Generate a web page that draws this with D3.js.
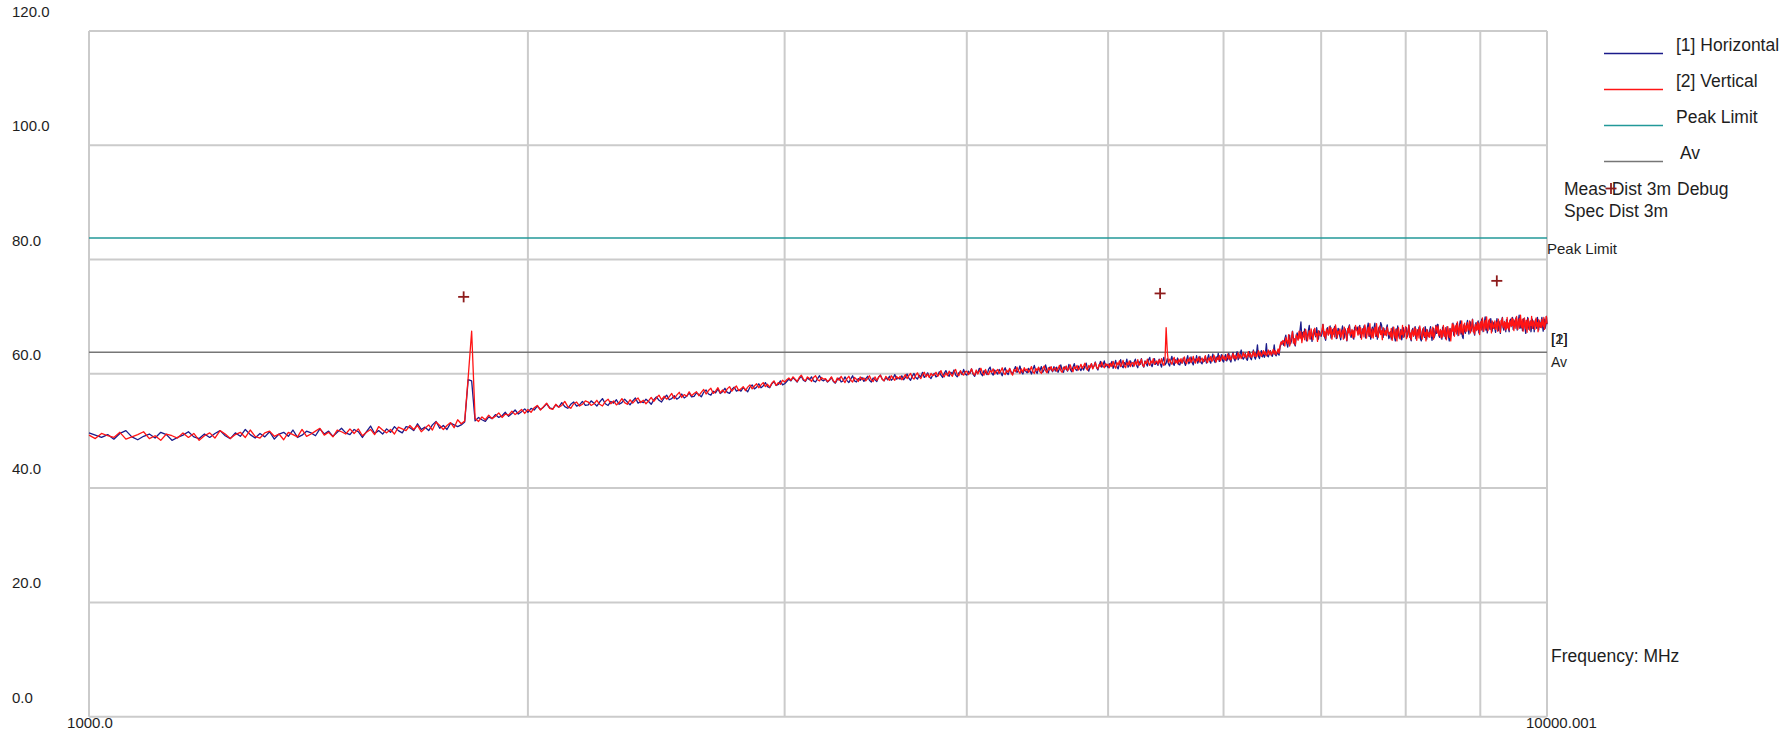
<!DOCTYPE html>
<html>
<head>
<meta charset="utf-8">
<script src="https://cdn.jsdelivr.net/npm/d3@7"></script>
<style>
  body { margin: 0; background: #fff; }
  svg { display: block; }
  text { font-family: "Liberation Sans", Arial, sans-serif; fill: #1e1e1e; }
</style>
</head>
<body>
<svg id="chart" width="1791" height="732"></svg>
<script>
// Radiated emission scan, 1 GHz – 10 GHz, 3 m measurement distance.
// Sweep grid: linear, 10 MHz per point.
const sweepStartMHz = 1000;
const sweepStepMHz = 10;

// [1] Horizontal polarisation, dBuV/m
const horizontalDb = [
  45.9,45.5,45.1,45.6,44.8,45.8,46.3,45.2,44.7,45.3,45.7,45.0,46.0,45.6,44.6,45.1,45.5,46.1,45.2,44.9,
  45.7,45.1,45.8,46.3,45.4,44.9,45.9,45.3,46.5,45.6,45.0,45.8,45.2,46.1,44.8,45.7,46.0,45.3,46.4,45.1,
  45.5,46.2,45.9,45.4,46.6,45.7,46.2,45.3,46.0,46.7,45.9,45.6,46.5,46.1,45.1,46.1,47.1,45.8,46.3,45.7,
  46.6,46.0,47.0,46.3,45.9,47.0,46.8,46.3,47.5,46.5,46.9,46.3,47.3,47.9,46.7,47.2,46.5,47.6,47.3,47.0,
  47.3,47.8,55.2,55.0,48.0,48.6,48.2,47.9,48.7,48.4,49.1,48.6,48.9,49.5,48.8,49.3,49.9,49.2,49.6,50.1,
  49.5,50.2,49.9,50.6,50.0,50.4,51.0,50.3,50.1,50.8,50.4,51.2,50.5,50.2,50.9,51.3,50.6,50.8,51.4,50.7,
  50.8,51.5,51.1,50.6,51.3,51.9,51.0,50.7,51.4,51.1,51.7,50.9,51.2,51.8,51.3,50.8,51.5,52.0,51.1,51.4,
  51.2,51.8,51.4,50.9,51.7,52.2,51.6,51.3,52.0,52.5,51.7,51.9,52.4,51.8,52.1,52.7,52.0,52.3,52.9,52.2,
  52.3,52.9,52.6,52.2,53.0,53.4,52.7,52.5,53.2,52.9,53.6,52.8,53.1,53.7,53.0,52.8,53.5,53.9,53.2,53.4,
  53.2,53.8,53.5,53.1,53.9,54.3,53.6,53.9,54.5,53.8,54.1,54.7,54.0,53.8,54.5,54.9,54.2,54.4,55.0,54.3,
  54.5,54.9,55.3,55.0,55.6,55.2,54.8,55.4,55.8,55.1,54.9,55.5,55.2,55.7,55.0,54.8,55.4,55.9,55.2,55.0,
  55.3,54.8,55.1,55.6,54.9,54.6,55.2,55.5,54.8,55.0,55.7,55.1,54.7,55.3,55.9,55.0,54.8,55.4,55.1,55.6,
  54.9,55.4,55.8,55.1,54.8,55.5,55.2,54.9,55.7,56.0,55.3,55.0,55.6,55.2,55.8,55.1,55.4,56.1,55.3,55.5,
  55.3,55.9,55.2,55.6,56.2,55.5,55.1,55.8,56.3,55.6,55.3,56.0,55.7,56.5,55.6,55.9,56.4,55.7,55.4,56.0,
  56.3,55.7,55.9,56.6,56.0,55.6,56.3,56.8,56.1,55.8,56.5,56.2,56.9,56.0,55.7,56.4,56.6,56.1,57.0,56.2,
  56.0,56.7,56.3,57.1,56.2,55.8,56.6,56.4,57.2,56.3,55.9,56.8,56.5,56.1,57.0,57.4,56.4,56.0,56.9,56.5,
  56.2,57.0,56.5,55.9,56.8,57.3,56.4,56.1,57.1,56.6,56.2,56.9,57.5,56.5,56.8,57.6,56.6,56.2,57.0,56.7,
  56.4,57.2,56.8,56.2,57.0,57.7,56.7,56.3,57.3,56.8,57.5,56.5,57.0,57.8,56.8,56.4,57.4,57.0,56.6,57.5,
  56.7,57.4,56.5,57.1,57.8,56.9,56.5,57.5,57.1,56.7,57.9,57.0,56.6,57.4,58.0,57.0,56.8,57.6,57.2,56.8,
  57.4,56.9,57.6,58.1,57.1,56.7,57.5,58.0,57.2,57.6,58.3,57.3,56.9,57.7,58.4,57.4,57.8,58.5,57.5,57.9,
  57.3,58.0,57.6,58.4,57.2,57.8,58.6,57.5,57.1,58.0,58.7,57.6,57.3,58.2,57.8,58.8,57.4,57.7,58.5,57.9,
  57.5,58.3,58.8,57.7,57.3,58.4,57.9,58.9,57.8,57.4,58.5,58.0,57.6,58.7,59.1,57.9,57.5,58.3,58.9,57.9,
  58.3,57.7,58.8,58.0,57.4,58.5,59.1,57.8,58.1,58.9,58.0,57.6,58.6,59.3,58.1,57.7,58.7,58.3,59.0,57.9,
  57.8,58.6,58.1,59.0,58.2,57.7,58.7,59.4,58.0,58.3,59.2,58.2,57.8,58.8,58.4,59.4,58.1,58.6,59.3,58.2,
  58.0,58.8,58.4,59.3,58.1,58.9,59.6,58.5,58.1,59.0,59.7,58.6,58.2,59.2,58.8,59.8,58.4,58.9,59.6,58.6,
  58.3,59.1,59.6,58.5,58.9,59.8,58.7,58.3,59.3,60.0,58.9,58.5,59.4,60.1,58.7,59.1,59.8,60.4,59.1,58.8,
  59.1,59.8,58.9,58.6,59.5,60.1,59.0,58.7,59.6,60.4,59.2,58.8,59.7,61.3,59.3,58.9,59.8,60.3,59.2,59.7,
  59.1,59.7,61.5,59.4,59.2,59.8,60.3,59.5,59.3,59.9,61.3,59.6,59.4,60.0,59.7,59.5,60.9,61.4,61.9,61.6,
  61.2,62.4,63.0,61.6,60.9,62.2,63.0,61.5,62.0,63.7,62.5,61.5,61.1,62.8,63.4,62.3,62.8,63.9,65.3,62.4,
  63.5,62.7,64.1,63.5,62.0,62.6,63.8,64.7,62.4,63.1,61.9,63.2,63.9,63.2,62.7,64.3,63.3,62.3,63.7,63.2,
  62.8,63.3,64.9,63.6,62.6,62.1,63.8,64.3,63.1,63.5,64.6,62.5,62.9,64.0,63.2,64.5,63.9,62.4,63.0,64.2,
  63.9,62.8,62.2,63.7,64.6,63.2,62.5,64.1,63.6,62.0,63.3,64.3,64.8,63.1,62.6,63.8,63.4,62.3,64.4,64.0,
  63.9,64.4,63.2,63.6,64.7,62.6,63.0,64.1,63.3,64.6,64.0,62.5,63.1,64.3,65.1,62.8,63.7,62.3,63.8,64.4,
  63.1,64.3,65.1,62.8,63.7,62.3,63.8,64.4,63.4,65.2,64.8,63.9,62.6,64.2,63.2,63.1,64.2,64.8,63.3,62.4,
  62.8,63.6,62.3,62.9,64.4,63.8,62.6,62.0,64.1,63.2,64.6,63.1,62.5,63.5,64.0,62.2,63.0,64.3,62.7,63.7,
  63.6,64.3,62.7,63.2,64.8,63.5,62.5,62.0,63.7,64.2,63.0,63.4,64.5,62.4,62.8,63.9,63.1,64.4,63.8,62.3,
  62.0,63.5,64.1,63.1,62.6,64.5,63.6,62.3,63.9,62.9,62.8,63.9,64.5,63.0,62.1,63.5,64.2,62.6,63.1,64.7,
  63.3,64.9,64.8,63.1,62.6,63.8,63.4,62.3,64.4,64.0,62.9,63.7,62.4,63.0,64.5,63.9,62.7,62.0,64.2,63.3,
  63.6,64.0,65.1,63.0,63.4,64.5,63.7,65.0,64.4,62.9,63.5,64.7,65.5,63.2,64.1,62.7,62.4,64.8,63.8,63.3,
  63.9,65.0,65.6,64.1,63.2,64.6,65.3,63.7,64.2,65.8,64.5,63.5,63.0,64.7,65.2,64.0,64.4,65.5,63.4,63.8,
  65.2,64.4,65.8,65.1,63.6,64.2,65.4,66.2,63.9,64.8,63.4,64.9,65.5,64.5,64.0,65.9,65.0,63.7,65.3,64.3,
  65.2,64.1,63.5,65.0,65.9,64.5,63.8,65.4,64.9,63.3,64.6,65.6,66.1,64.4,63.9,65.1,64.7,63.6,65.7,65.3,
  65.1,64.1,63.6,65.3,65.8,64.6,65.0,66.1,64.0,64.4,65.5,64.7,66.0,65.4,63.9,64.5,65.7,66.5,64.2,65.1,
  64.3,65.1,63.8,64.4,65.9,65.3,64.1,63.3,65.6,64.7,66.1,64.6,64.0,65.0,65.5,63.6,64.5,65.8,64.2,65.2,
  63.6,65.1,65.7,64.7,64.2,66.1,65.2,63.9,65.5,64.5,64.4,65.5,66.1,64.6,63.7,65.1,65.8,64.2,64.7,66.3,
  64.9
];

// [2] Vertical polarisation, dBuV/m
const verticalDb = [
  45.5,44.9,45.8,45.4,45.1,46.0,44.8,45.2,45.6,46.1,44.9,45.4,44.6,45.7,45.4,45.0,45.9,45.1,45.8,44.6,
  45.4,45.9,45.0,46.3,45.7,44.9,45.6,46.0,45.1,46.4,45.3,45.0,45.9,46.2,45.3,45.7,44.7,46.0,45.6,45.2,
  46.5,45.3,45.7,46.2,46.7,45.5,46.0,45.2,46.4,46.1,45.7,46.6,45.8,46.6,45.4,46.0,46.5,45.6,47.0,46.4,
  45.9,46.5,45.7,46.9,46.6,46.3,47.2,46.5,47.2,46.1,46.7,47.3,46.4,47.8,47.2,46.5,47.2,47.7,46.8,48.2,
  47.5,48.0,55.6,63.7,48.4,47.9,48.7,48.2,49.0,48.4,48.8,49.4,48.6,49.2,49.0,49.7,49.1,49.5,50.0,49.3,
  50.0,49.5,50.3,50.7,49.9,50.5,51.1,50.2,50.0,50.9,50.4,50.7,51.4,50.5,50.2,51.0,51.3,50.6,50.9,51.5,
  51.3,50.7,51.0,51.6,50.9,50.6,51.4,51.8,51.0,51.5,50.8,51.2,51.9,51.2,50.9,51.7,51.1,51.6,52.0,51.2,
  51.6,51.0,51.5,52.1,51.4,52.0,52.5,51.7,52.3,51.8,52.2,52.8,51.9,52.5,53.0,52.1,52.6,52.3,53.1,52.4,
  52.8,53.1,52.4,53.0,53.5,52.7,53.3,53.7,52.8,53.2,53.8,52.9,53.4,52.9,53.6,54.0,53.2,53.7,54.1,53.3,
  53.6,54.0,53.3,53.9,54.3,53.6,54.1,54.5,53.8,54.3,54.7,54.0,54.4,53.9,54.6,55.0,54.2,54.7,54.4,55.1,
  54.8,55.2,55.5,55.1,55.7,55.3,54.9,55.6,56.0,55.3,55.0,55.7,55.4,54.9,55.6,55.9,55.2,55.0,55.6,55.3,
  55.4,54.9,55.2,55.7,55.0,54.7,55.5,55.1,55.8,55.2,54.7,55.4,55.8,55.1,54.8,55.6,55.3,54.9,55.7,55.2,
  55.5,55.0,55.4,55.9,55.2,54.9,55.7,55.1,55.6,56.0,55.3,55.0,55.8,55.4,55.1,55.9,55.5,55.1,55.8,55.4,
  55.8,55.2,55.6,56.1,55.4,55.9,56.3,55.6,55.3,56.0,56.4,55.7,55.4,56.1,56.5,55.7,56.2,55.6,56.3,55.9,
  56.1,56.5,55.8,56.2,56.8,56.0,55.7,56.4,55.9,56.7,56.2,55.8,56.6,57.0,56.1,55.9,56.8,56.3,56.0,56.6,
  56.7,56.1,56.5,57.1,56.3,56.0,56.9,56.2,56.7,57.2,56.4,56.0,57.0,56.3,56.1,56.8,56.5,57.1,56.2,56.7,
  57.0,56.3,56.7,57.3,56.4,56.1,56.9,56.5,57.2,56.4,56.0,57.0,56.6,57.4,56.7,56.3,57.1,56.5,57.3,56.8,
  57.1,56.5,56.9,57.5,56.6,56.3,57.2,56.8,57.4,56.6,56.3,57.2,57.6,56.8,56.4,57.3,56.9,57.5,56.7,57.1,
  57.3,56.7,57.1,57.7,56.8,56.5,57.4,57.0,57.6,56.8,57.2,57.8,57.0,56.6,57.5,57.1,57.7,56.9,57.3,57.9,
  57.2,57.6,58.1,57.2,56.9,57.7,57.3,58.0,57.1,57.6,58.2,57.4,57.1,57.9,57.5,58.3,57.6,57.3,58.0,57.7,
  57.9,57.3,58.1,57.5,58.4,57.6,57.2,58.2,57.8,58.5,57.5,57.9,58.6,57.6,57.3,58.2,57.8,58.5,57.5,58.1,
  58.2,57.6,58.4,57.8,58.7,57.7,58.1,58.8,57.8,57.5,58.4,58.0,58.8,58.1,57.7,58.5,58.1,58.9,57.9,58.3,
  58.5,57.9,58.7,58.1,58.9,58.0,57.7,58.6,64.3,60.1,58.2,58.8,58.3,57.9,58.7,59.1,58.1,58.6,58.0,58.8,
  58.3,58.9,58.1,58.7,59.2,58.3,58.0,58.8,58.4,59.1,58.2,58.6,59.3,58.4,58.1,58.9,58.5,59.2,58.3,58.7,
  59.0,58.3,58.7,59.4,58.5,58.2,59.0,58.6,59.3,58.4,58.8,59.5,58.7,58.3,59.1,58.7,59.4,58.5,58.9,59.5,
  58.8,59.3,58.6,59.0,59.7,58.8,59.4,58.7,59.1,59.8,58.9,59.5,58.8,59.2,59.9,59.0,59.6,58.9,59.3,60.0,
  59.2,59.7,59.0,59.4,60.1,59.2,59.8,59.1,59.5,60.2,59.3,59.9,59.2,59.6,60.3,59.4,60.0,59.3,59.7,60.3,
  59.6,60.1,59.4,59.8,60.4,59.6,60.2,59.5,59.9,60.5,59.7,60.3,59.6,60.0,60.6,59.8,61.2,61.8,61.4,62.1,
  61.9,61.1,62.6,62.0,61.5,63.1,61.1,61.9,62.6,63.6,61.6,62.4,61.3,63.1,62.7,62.1,63.7,62.4,63.6,61.7,
  62.8,63.6,62.2,64.0,63.2,62.0,63.1,63.8,62.3,64.1,62.9,62.2,63.8,64.2,62.9,63.3,61.9,63.8,63.1,62.9,
  63.3,64.0,64.9,62.8,63.6,62.4,64.1,63.7,63.0,64.5,63.2,64.3,62.3,63.4,64.2,62.7,64.8,63.9,62.5,63.7,
  63.2,64.1,62.6,63.3,63.9,62.3,64.4,63.7,63.0,62.1,64.2,63.4,64.6,62.9,63.3,64.0,62.5,63.8,62.7,64.7,
  64.1,63.7,63.0,64.5,63.2,64.3,62.3,63.4,64.2,62.7,64.8,63.9,62.5,63.7,64.4,62.9,65.0,63.2,62.6,64.1,
  62.5,63.7,64.4,62.9,65.0,63.2,62.6,64.1,64.6,63.1,63.8,62.2,64.3,63.6,63.0,63.8,62.9,64.4,63.7,63.1,
  63.5,62.7,64.2,62.1,63.0,64.4,63.2,62.5,64.0,62.0,63.7,64.3,62.8,62.3,63.8,63.1,64.7,62.6,63.3,63.9,
  64.5,62.4,63.1,63.8,64.7,62.6,63.4,62.2,63.9,63.5,62.8,64.3,63.0,64.1,62.1,63.2,64.0,62.5,64.6,63.7,
  62.9,62.3,63.8,64.3,62.8,63.5,62.0,64.0,63.3,62.7,63.5,62.6,64.1,63.4,62.8,64.4,62.3,63.0,63.7,64.6,
  64.2,63.4,64.6,62.9,63.3,64.0,62.5,63.8,62.7,64.7,63.6,62.8,64.3,62.2,63.1,64.5,63.3,62.6,64.1,62.0,
  63.5,65.0,63.7,64.8,62.8,63.9,64.7,63.2,65.3,64.4,63.0,64.2,64.9,63.4,65.5,63.7,63.1,64.6,65.1,63.6,
  64.6,63.7,65.2,64.5,63.9,65.5,63.4,64.1,64.8,65.7,63.6,64.4,63.2,64.9,64.5,63.8,65.3,64.0,65.1,63.1,
  64.6,65.4,63.9,66.0,65.1,63.7,64.9,65.6,64.1,66.2,64.4,63.8,65.3,65.8,64.3,65.0,63.4,65.5,64.8,64.2,
  64.6,65.5,64.0,64.7,65.3,63.7,65.8,65.1,64.4,63.5,65.6,64.8,66.0,64.3,64.7,65.4,63.9,65.2,64.1,66.1,
  64.3,65.1,63.9,65.6,65.2,64.5,66.0,64.7,65.8,63.8,64.9,65.7,64.2,66.3,65.4,64.0,65.2,65.9,64.4,66.5,
  65.1,64.3,65.8,63.7,64.6,66.0,64.8,64.1,65.6,63.5,65.3,65.9,64.4,63.9,65.4,64.7,66.3,64.2,64.9,65.5,
  64.6,64.0,65.5,66.0,64.5,65.2,63.6,65.7,65.0,64.4,65.2,64.3,65.8,65.1,64.5,66.1,64.0,64.7,65.4,66.3,
  65.0
];

// Limit lines (dBuV/m)
const peakLimitDb = 80;
const avLimitDb = 60;

// Measured debug points
const markerFreqMHz = [1807, 5428, 9238];
const markerDb = [69.7, 70.3, 72.5];

// Axis ticks
const yTickValues = [0, 20, 40, 60, 80, 100, 120];
const xGridMHz = [2000, 3000, 4000, 5000, 6000, 7000, 8000, 9000];
const xEndLabels = ["1000.0", "10000.001"];
const freqRangeMHz = [1000, 10000.001];

// Legend entries
const legendLabels = ["[1] Horizontal", "[2] Vertical", "Peak Limit", " Av"];

const colors = {
  horizontal: "#1b1b8a",
  vertical: "#ff1414",
  peak: "#229999",
  av: "#767676",
  grid: "#cbcbcb",
  marker: "#8e1c1c"
};

const svg = d3.select("#chart");

const x = d3.scaleLog().domain(freqRangeMHz).range([89, 1547]);
const y = d3.scaleLinear().domain([0, 120]).range([695.2, 9.4]);
const gridShift = 21.5; // the grid rows sit a little below the level labels

// Grid rows
svg.append("g").selectAll("line").data(yTickValues).join("line")
  .attr("x1", x(freqRangeMHz[0])).attr("x2", x(freqRangeMHz[1]))
  .attr("y1", d => y(d) + gridShift).attr("y2", d => y(d) + gridShift)
  .attr("stroke", colors.grid).attr("stroke-width", 2);

// Grid columns (frame sides included)
svg.append("g").selectAll("line").data([freqRangeMHz[0], ...xGridMHz, freqRangeMHz[1]]).join("line")
  .attr("x1", d => x(d)).attr("x2", d => x(d))
  .attr("y1", y(120) + gridShift).attr("y2", y(0) + gridShift)
  .attr("stroke", colors.grid).attr("stroke-width", 2);

// Level labels
svg.append("g").selectAll("text").data(yTickValues).join("text")
  .attr("x", 12).attr("y", d => y(d) + 2)
  .attr("dominant-baseline", "central")
  .style("font-size", "15px")
  .text(d => d3.format(".1f")(d));

// Frequency end labels
svg.append("text").attr("x", x(freqRangeMHz[0]) + 1).attr("y", 722)
  .attr("text-anchor", "middle").attr("dominant-baseline", "central")
  .style("font-size", "15px").text(xEndLabels[0]);
svg.append("text").attr("x", x(freqRangeMHz[1]) - 21).attr("y", 722)
  .attr("dominant-baseline", "central")
  .style("font-size", "15px").text(xEndLabels[1]);

// Limit lines
svg.append("line")
  .attr("x1", x(freqRangeMHz[0])).attr("x2", x(freqRangeMHz[1]))
  .attr("y1", y(peakLimitDb)).attr("y2", y(peakLimitDb))
  .attr("stroke", colors.peak).attr("stroke-width", 1.6);
svg.append("line")
  .attr("x1", x(freqRangeMHz[0])).attr("x2", x(freqRangeMHz[1]))
  .attr("y1", y(avLimitDb)).attr("y2", y(avLimitDb))
  .attr("stroke", colors.av).attr("stroke-width", 1.6);

// Traces
const freqOf = i => sweepStartMHz + i * sweepStepMHz;
const trace = d3.line().x((d, i) => x(freqOf(i))).y(d => y(d));

svg.append("path").datum(horizontalDb)
  .attr("d", trace).attr("fill", "none")
  .attr("stroke", colors.horizontal).attr("stroke-width", 1.3)
  .attr("stroke-linejoin", "round");
svg.append("path").datum(verticalDb)
  .attr("d", trace).attr("fill", "none")
  .attr("stroke", colors.vertical).attr("stroke-width", 1.3)
  .attr("stroke-linejoin", "round");

// Debug markers
const plus = (g, cx, cy) => {
  g.append("line").attr("x1", cx - 5.5).attr("x2", cx + 5.5).attr("y1", cy).attr("y2", cy);
  g.append("line").attr("x1", cx).attr("x2", cx).attr("y1", cy - 5.5).attr("y2", cy + 5.5);
};
const markers = svg.append("g").attr("stroke", colors.marker).attr("stroke-width", 1.8);
markerFreqMHz.forEach((f, i) => plus(markers, x(f), y(markerDb[i])));

// Right-hand labels
svg.append("text").attr("x", 1547).attr("y", y(peakLimitDb) + 10)
  .attr("dominant-baseline", "central").style("font-size", "15px").text("Peak Limit");
svg.append("text").attr("x", 1551).attr("y", y(avLimitDb) + 9.5)
  .attr("dominant-baseline", "central").style("font-size", "14px").text("Av");
// trace end tags, written over each other
["[2]", "[1]"].forEach(t => {
  svg.append("text").attr("x", 1551).attr("y", y(avLimitDb) - 14)
    .attr("dominant-baseline", "central").style("font-size", "15px").text(t);
});
svg.append("text").attr("x", 1551).attr("y", 656)
  .attr("dominant-baseline", "central").style("font-size", "17.5px").text("Frequency: MHz");

// Legend
const legendColors = [colors.horizontal, colors.vertical, colors.peak, colors.av];
const legend = svg.append("g");
legendLabels.forEach((label, i) => {
  const ly = 53.5 + i * 36;
  legend.append("line").attr("x1", 1604).attr("x2", 1663).attr("y1", ly).attr("y2", ly)
    .attr("stroke", legendColors[i]).attr("stroke-width", 1.6);
  legend.append("text").attr("x", 1676).attr("y", ly - 8.5)
    .attr("dominant-baseline", "central").style("font-size", "17.5px")
    .attr("xml:space", "preserve").text(label);
});
svg.append("text").attr("x", 1564).attr("y", 188.5)
  .attr("dominant-baseline", "central").style("font-size", "17.5px").text("Meas Dist 3m");
svg.append("text").attr("x", 1564).attr("y", 210.5)
  .attr("dominant-baseline", "central").style("font-size", "17.5px").text("Spec Dist 3m");
const legendMarker = svg.append("g").attr("stroke", colors.marker).attr("stroke-width", 1.8);
plus(legendMarker, 1611, 188.5);
svg.append("text").attr("x", 1677).attr("y", 188.5)
  .attr("dominant-baseline", "central").style("font-size", "17.5px").text("Debug");
</script>
</body>
</html>
